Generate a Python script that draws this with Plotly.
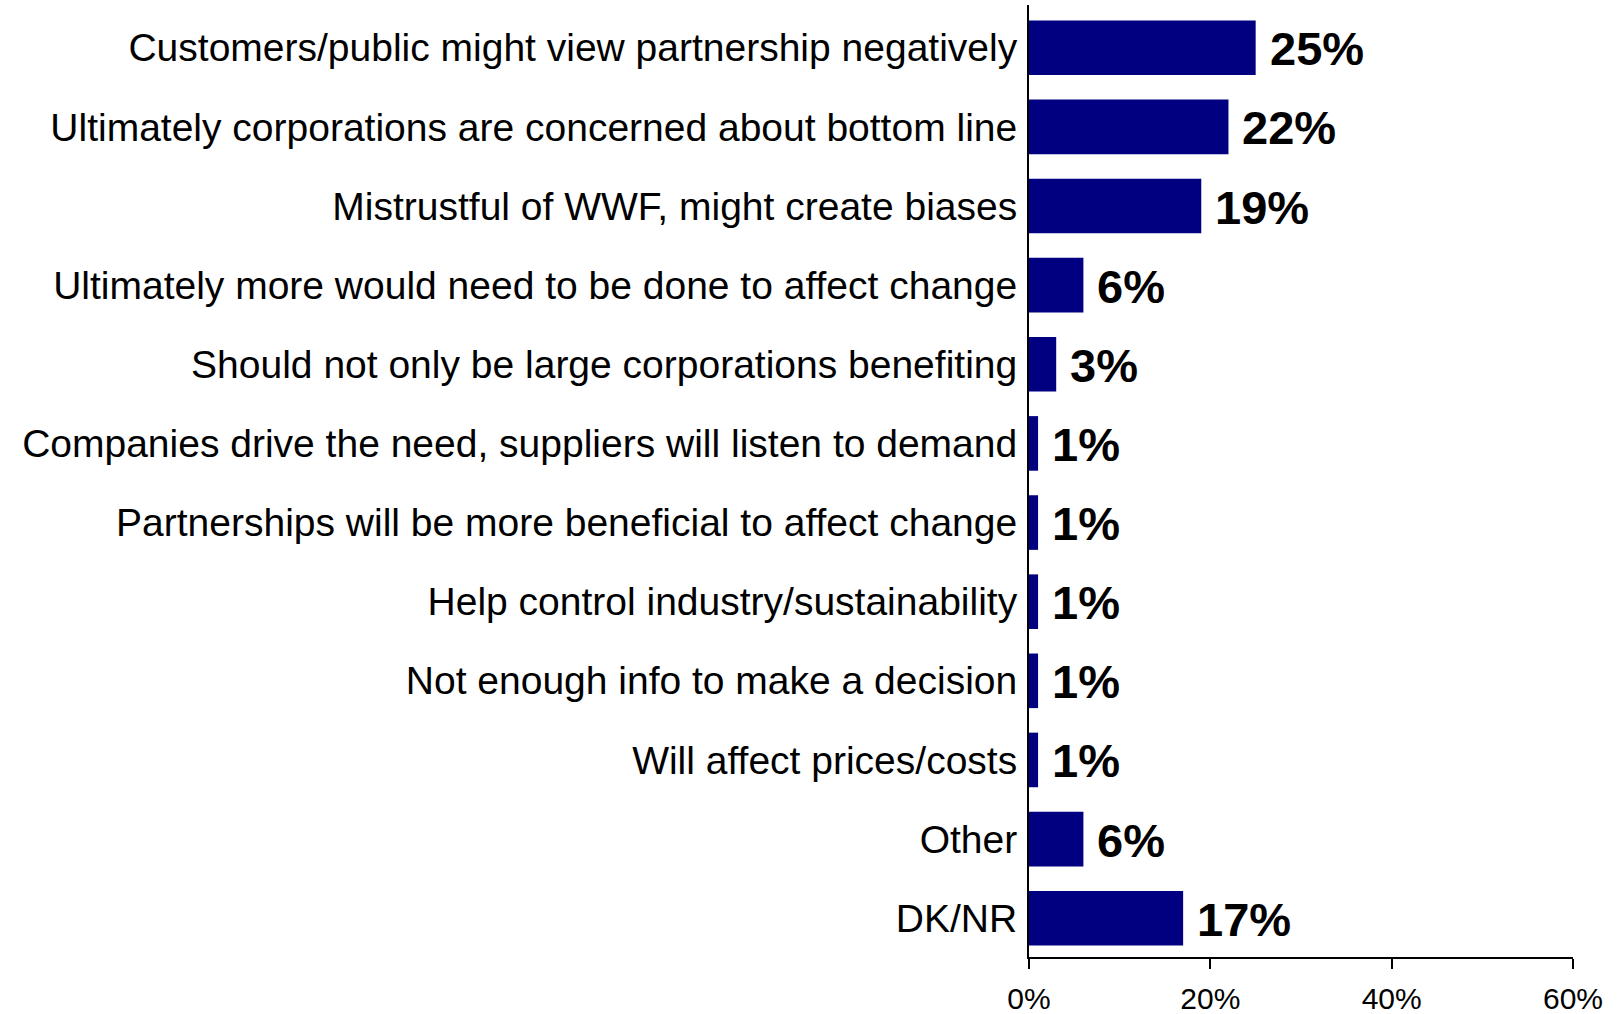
import plotly.graph_objects as go

# Survey responses: reasons for concern about the partnership
categories = [
    "Customers/public might view partnership negatively",
    "Ultimately corporations are concerned about bottom line",
    "Mistrustful of WWF, might create biases",
    "Ultimately more would need to be done to affect change",
    "Should not only be large corporations benefiting",
    "Companies drive the need, suppliers will listen to demand",
    "Partnerships will be more beneficial to affect change",
    "Help control industry/sustainability",
    "Not enough info to make a decision",
    "Will affect prices/costs",
    "Other",
    "DK/NR",
]
values = [25, 22, 19, 6, 3, 1, 1, 1, 1, 1, 6, 17]
x_ticks = [0, 20, 40, 60]
x_tick_labels = ["0%", "20%", "40%", "60%"]

NAVY = "#000080"
FONT = "Liberation Sans, Arial, sans-serif"

fig = go.Figure(
    go.Bar(
        x=values,
        y=categories,
        orientation="h",
        marker=dict(color=NAVY, line=dict(width=0)),
        width=0.69,
        hoverinfo="skip",
    )
)

# value labels just to the right of each bar
for cat, v in zip(categories, values):
    fig.add_annotation(
        x=v, y=cat, text=f"<b>{v}%</b>", showarrow=False,
        xanchor="left", yanchor="middle", xshift=12, yshift=-1,
        font=dict(family=FONT, size=47, color="black"),
    )

fig.update_layout(
    width=1617, height=1014,
    margin=dict(l=1029, r=44, t=5, b=57, autoexpand=False),
    plot_bgcolor="white", paper_bgcolor="white",
    showlegend=False,
)

fig.update_xaxes(
    range=[0, 60],
    tickvals=x_ticks, ticktext=x_tick_labels,
    ticks="outside", ticklen=10, tickwidth=2, tickcolor="black",
    showline=True, linecolor="black", linewidth=2,
    showgrid=False, zeroline=False, automargin=False,
    tickfont=dict(family=FONT, size=30, color="black"),
    ticklabelstandoff=4,
)

fig.update_yaxes(
    categoryorder="array", categoryarray=categories,
    range=[11.49, -0.54],
    showline=True, linecolor="black", linewidth=2,
    showgrid=False, zeroline=False, ticks="", automargin=False,
    tickfont=dict(family=FONT, size=39, color="black"),
    ticklabelstandoff=2,
)

fig.write_html("out.html")
